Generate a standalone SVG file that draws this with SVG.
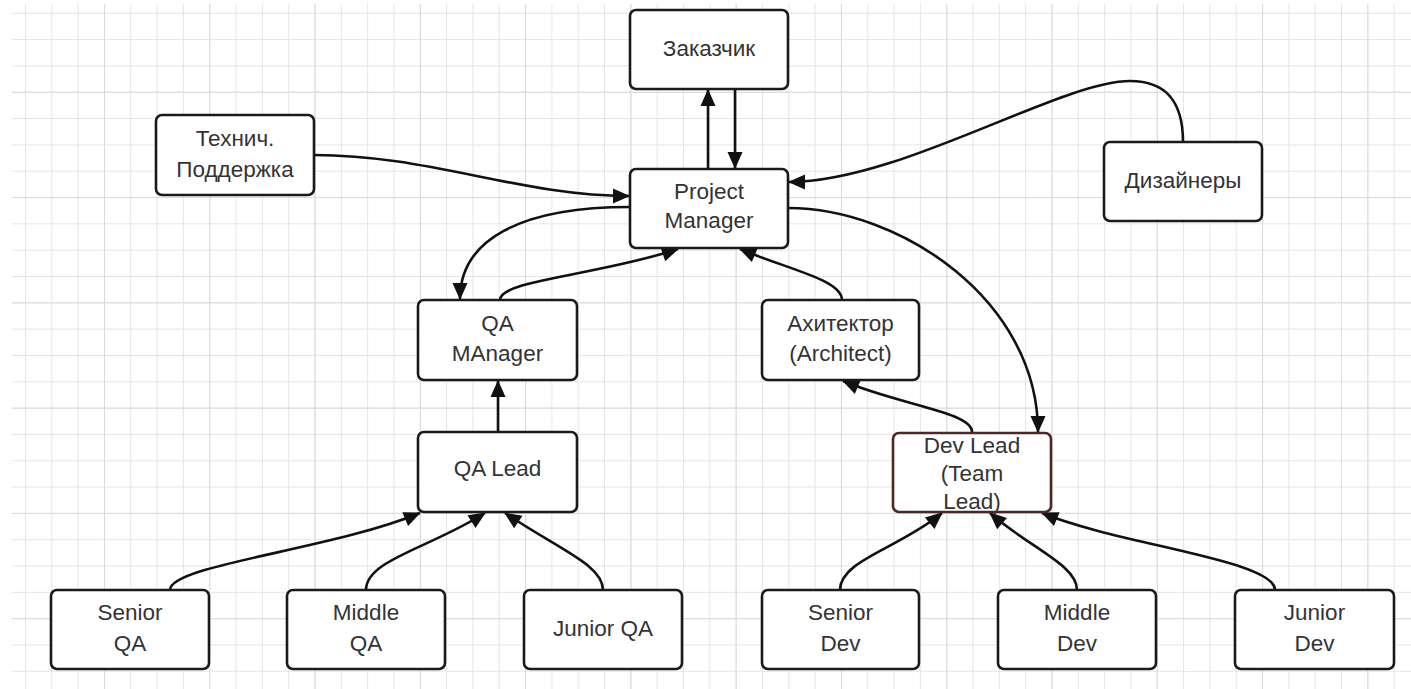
<svg xmlns="http://www.w3.org/2000/svg" width="1411" height="689" viewBox="0 0 1411 689">
<defs>
<pattern id="grid" patternUnits="userSpaceOnUse" x="25" y="12.8" width="26.32" height="26.32">
<path d="M0,0.5 H26.32 M0.5,0 V26.32" fill="none" stroke="#e4e4e4" stroke-width="1"/>
</pattern>
<pattern id="gridMajor" patternUnits="userSpaceOnUse" x="104" y="91.8" width="105.28" height="105.28">
<path d="M0,0.5 H105.28 M0.5,0 V105.28" fill="none" stroke="#dadada" stroke-width="1"/>
</pattern>
<marker id="arrow" markerUnits="userSpaceOnUse" markerWidth="17" markerHeight="15" refX="16" refY="7.5" orient="auto" overflow="visible">
<path d="M0,0 L17,7.5 L0,15 Z" fill="#111"/>
</marker>
</defs>
<style>
.box{fill:#fff;stroke:#1a1a1a;stroke-width:2.6}
.dev{stroke:#4d2626}
.lbl{font-family:"Liberation Sans",Arial,sans-serif;font-size:22.5px;fill:#333;text-anchor:middle}
.conn path{fill:none;stroke:#111;stroke-width:2.6;marker-end:url(#arrow)}
</style>
<rect x="0" y="0" width="1411" height="689" fill="#fff"/>
<rect x="12" y="4" width="1399" height="685" fill="url(#grid)"/>
<rect x="12" y="4" width="1399" height="685" fill="url(#gridMajor)"/>

<g id="connectors" class="conn">
<path d="M708,169 L708,90"/>
<path d="M735,89 L735,168"/>
<path d="M314,155 C430,155 520,196 629,196"/>
<path d="M1183,142 C1183,95 1160,81 1130,81 C1060,81 900,182 789,182"/>
<path d="M788,208 C900,208 1038,300 1038,432"/>
<path d="M630,207 C520,207 460,240 460,299"/>
<path d="M500,300 C500,280 600,275 678,249"/>
<path d="M842,300 C842,280 790,270 740,249"/>
<path d="M498,432 L498,381"/>
<path d="M972,432 C972,412 900,405 843,381"/>
<path d="M170,590 C170,565 330,550 420,513"/>
<path d="M366,590 C366,560 430,548 485,513"/>
<path d="M603,590 C603,565 560,550 505,513"/>
<path d="M840,590 C840,560 900,548 942,513"/>
<path d="M1077,590 C1077,565 1030,548 990,513"/>
<path d="M1275,590 C1275,560 1120,545 1042,513"/>
</g>

<g id="customer"><rect class="box" x="630" y="10" width="158" height="79" rx="6"/><text class="lbl" x="709" y="56">Заказчик</text></g>
<g id="support"><rect class="box" x="156" y="115" width="158" height="80" rx="6"/><text class="lbl" x="235" y="146">Технич.</text><text class="lbl" x="235" y="177">Поддержка</text></g>
<g id="pm"><rect class="box" x="630" y="169" width="158" height="79" rx="6"/><text class="lbl" x="709" y="199">Project</text><text class="lbl" x="709" y="228">Manager</text></g>
<g id="designers"><rect class="box" x="1104" y="142" width="158" height="79" rx="6"/><text class="lbl" x="1183" y="188">Дизайнеры</text></g>
<g id="qa-manager"><rect class="box" x="418" y="300" width="159" height="80" rx="6"/><text class="lbl" x="497.5" y="331">QA</text><text class="lbl" x="497.5" y="361">MAnager</text></g>
<g id="architect"><rect class="box" x="762" y="300" width="157" height="80" rx="6"/><text class="lbl" x="840.5" y="331">Ахитектор</text><text class="lbl" x="840.5" y="361">(Architect)</text></g>
<g id="qa-lead"><rect class="box" x="418" y="432" width="159" height="80" rx="6"/><text class="lbl" x="497.5" y="476">QA Lead</text></g>
<g id="dev-lead"><rect class="box dev" x="893" y="433" width="158" height="79" rx="6"/><text class="lbl" x="972" y="453">Dev Lead</text><text class="lbl" x="972" y="481">(Team</text><text class="lbl" x="972" y="509">Lead)</text></g>
<g id="senior-qa"><rect class="box" x="51" y="590" width="158" height="79" rx="6"/><text class="lbl" x="130" y="620">Senior</text><text class="lbl" x="130" y="651">QA</text></g>
<g id="middle-qa"><rect class="box" x="287" y="590" width="158" height="79" rx="6"/><text class="lbl" x="366" y="620">Middle</text><text class="lbl" x="366" y="651">QA</text></g>
<g id="junior-qa"><rect class="box" x="524" y="590" width="158" height="79" rx="6"/><text class="lbl" x="603" y="636">Junior QA</text></g>
<g id="senior-dev"><rect class="box" x="762" y="590" width="157" height="79" rx="6"/><text class="lbl" x="840.5" y="620">Senior</text><text class="lbl" x="840.5" y="651">Dev</text></g>
<g id="middle-dev"><rect class="box" x="998" y="590" width="158" height="79" rx="6"/><text class="lbl" x="1077" y="620">Middle</text><text class="lbl" x="1077" y="651">Dev</text></g>
<g id="junior-dev"><rect class="box" x="1235" y="590" width="159" height="79" rx="6"/><text class="lbl" x="1314.5" y="620">Junior</text><text class="lbl" x="1314.5" y="651">Dev</text></g>
</svg>
